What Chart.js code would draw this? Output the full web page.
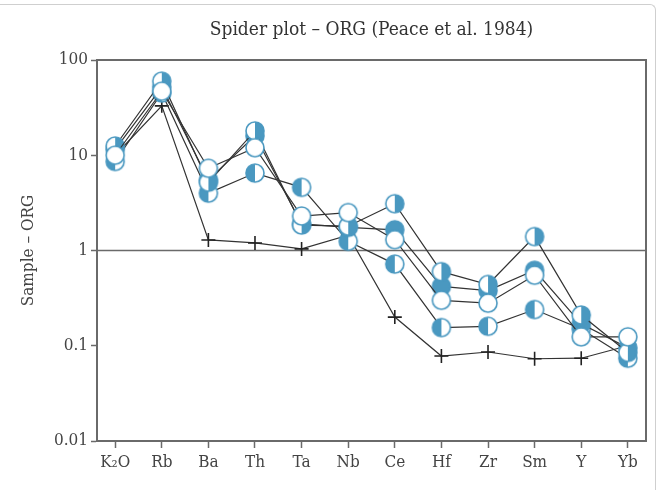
<!DOCTYPE html>
<html>
<head>
<meta charset="utf-8">
<script src="https://cdn.jsdelivr.net/npm/chart.js@4.4.1/dist/chart.umd.min.js"></script>
<style>
html, body { margin: 0; padding: 0; background: #fff; }
#wrap { position: relative; width: 666px; height: 490px; overflow: hidden; }
#frame { position: absolute; left: -2px; top: 4px; width: 658px; height: 500px; border-top: 1px solid #cfcfcf; border-right: 1px solid #cfcfcf; border-top-right-radius: 6px; box-sizing: border-box; }
canvas { position: absolute; left: 0; top: 0; }
</style>
</head>
<body>
<div id="wrap">
  <div id="frame"></div>
  <canvas id="spider" width="666" height="490"></canvas>
</div>
<script>
// kategoriler ve eksen
const categories = ['K₂O', 'Rb', 'Ba', 'Th', 'Ta', 'Nb', 'Ce', 'Hf', 'Zr', 'Sm', 'Y', 'Yb'];
const yTicks = [0.01, 0.1, 1, 10, 100];

// örnek serileri (ORG'a normalize)
const openSample  = [10, 47, 7.3, 12, 2.3, 2.5, 1.3, 0.3, 0.28, 0.55, 0.124, 0.124];
const rightSample = [12.5, 60, 5.2, 18, 1.85, 1.8, 3.1, 0.6, 0.44, 1.4, 0.21, 0.085];
const fullSample  = [11.5, 52, 5.5, 16, 1.9, 1.75, 1.65, 0.42, 0.38, 0.62, 0.17, 0.095];
const leftSample  = [8.6, 45, 4.0, 6.5, 4.6, 1.25, 0.72, 0.155, 0.16, 0.24, 0.15, 0.074];
const crossSample = [10, 33, 1.29, 1.2, 1.04, 1.45, 0.2, 0.078, 0.086, 0.073, 0.074, 0.1];
const refLevel = 1;

const BLUE = '#4a98c0';
const LINE = '#333';
const AXIS = '#6a6a6a';
const FONT = '"DejaVu Serif Condensed", "Liberation Serif", serif';

// yarım dolu daire işaretleri
function marker(kind) {
    const r = 9, s = 24, m = s / 2;
    const c = document.createElement('canvas');
    c.width = s; c.height = s;
    const g = c.getContext('2d');
    g.beginPath(); g.arc(m, m, r, 0, Math.PI * 2);
    g.fillStyle = '#fff'; g.fill();
    g.fillStyle = BLUE;
    if (kind === 'full') {
        g.beginPath(); g.arc(m, m, r, 0, Math.PI * 2); g.fill();
    } else if (kind === 'right') {
        g.beginPath(); g.moveTo(m, m); g.arc(m, m, r, -Math.PI / 2, Math.PI / 2); g.closePath(); g.fill();
    } else if (kind === 'left') {
        g.beginPath(); g.moveTo(m, m); g.arc(m, m, r, Math.PI / 2, Math.PI * 1.5); g.closePath(); g.fill();
    }
    g.beginPath(); g.arc(m, m, r, 0, Math.PI * 2);
    g.lineWidth = 1.6; g.strokeStyle = BLUE; g.stroke();
    return c;
}

const pts = arr => arr.map((v, i) => ({ x: i, y: v }));

function series(label, arr, style) {
    return {
        label: label,
        data: pts(arr),
        borderColor: LINE,
        borderWidth: 1.2,
        pointStyle: style,
        pointRadius: 10,
        pointBorderWidth: 0,
        tension: 0
    };
}

const X_MIN = -0.39, X_MAX = 11.39;

// başlık ve çerçeve
const framePlugin = {
    id: 'frame',
    afterDraw(chart) {
        const { ctx, chartArea: a } = chart;
        ctx.save();
        ctx.strokeStyle = AXIS;
        ctx.lineWidth = 2;
        ctx.beginPath();
        ctx.moveTo(a.left, a.top); ctx.lineTo(a.right, a.top); ctx.lineTo(a.right, a.bottom);
        ctx.stroke();
        ctx.fillStyle = '#333';
        ctx.font = '19px ' + FONT;
        ctx.textAlign = 'center';
        ctx.textBaseline = 'middle';
        ctx.fillText('Spider plot – ORG (Peace et al. 1984)', (a.left + a.right) / 2, 30);
        ctx.restore();
    }
};

const chart = new Chart(document.getElementById('spider').getContext('2d'), {
    type: 'line',
    data: {
        datasets: [
            series('open', openSample, marker('open')),
            series('right', rightSample, marker('right')),
            series('full', fullSample, marker('full')),
            series('left', leftSample, marker('left')),
            {
                label: 'cross',
                data: pts(crossSample),
                borderColor: LINE,
                borderWidth: 1.2,
                pointStyle: 'cross',
                pointRadius: 7,
                pointBorderWidth: 1.6,
                pointBorderColor: '#222',
                tension: 0
            },
            {
                label: 'ref',
                data: [{ x: X_MIN, y: refLevel }, { x: X_MAX, y: refLevel }],
                borderColor: AXIS,
                borderWidth: 1.6,
                pointRadius: 0
            }
        ]
    },
    options: {
        responsive: false,
        animation: false,
        layout: { padding: { top: 60, right: 20, left: 0, bottom: 0 } },
        plugins: {
            legend: { display: false },
            tooltip: { enabled: false },
            title: { display: false }
        },
        scales: {
            x: {
                type: 'linear',
                min: X_MIN,
                max: X_MAX,
                afterBuildTicks: s => { s.ticks = categories.map((c, i) => ({ value: i })); },
                afterFit: s => { s.height = 49; },
                ticks: {
                    autoSkip: false,
                    maxRotation: 0,
                    padding: 4,
                    color: '#444',
                    font: { family: FONT, size: 17 },
                    callback: v => categories[v]
                },
                grid: { drawOnChartArea: false, drawTicks: true, tickLength: 7, tickWidth: 1.5, color: AXIS },
                border: { color: AXIS, width: 2 }
            },
            y: {
                type: 'logarithmic',
                min: 0.01,
                max: 100,
                afterBuildTicks: s => { s.ticks = yTicks.map(v => ({ value: v })); },
                afterFit: s => { s.width = 97; },
                ticks: {
                    padding: 3,
                    color: '#444',
                    font: { family: FONT, size: 17 },
                    callback: v => String(v)
                },
                grid: { drawOnChartArea: false, drawTicks: true, tickLength: 6, tickWidth: 1.5, color: AXIS },
                border: { color: AXIS, width: 2 },
                title: {
                    display: true,
                    text: 'Sample – ORG',
                    color: '#444',
                    font: { family: FONT, size: 17 },
                    padding: { top: 18, bottom: 0 }
                }
            }
        }
    },
    plugins: [framePlugin]
});
</script>
</body>
</html>
